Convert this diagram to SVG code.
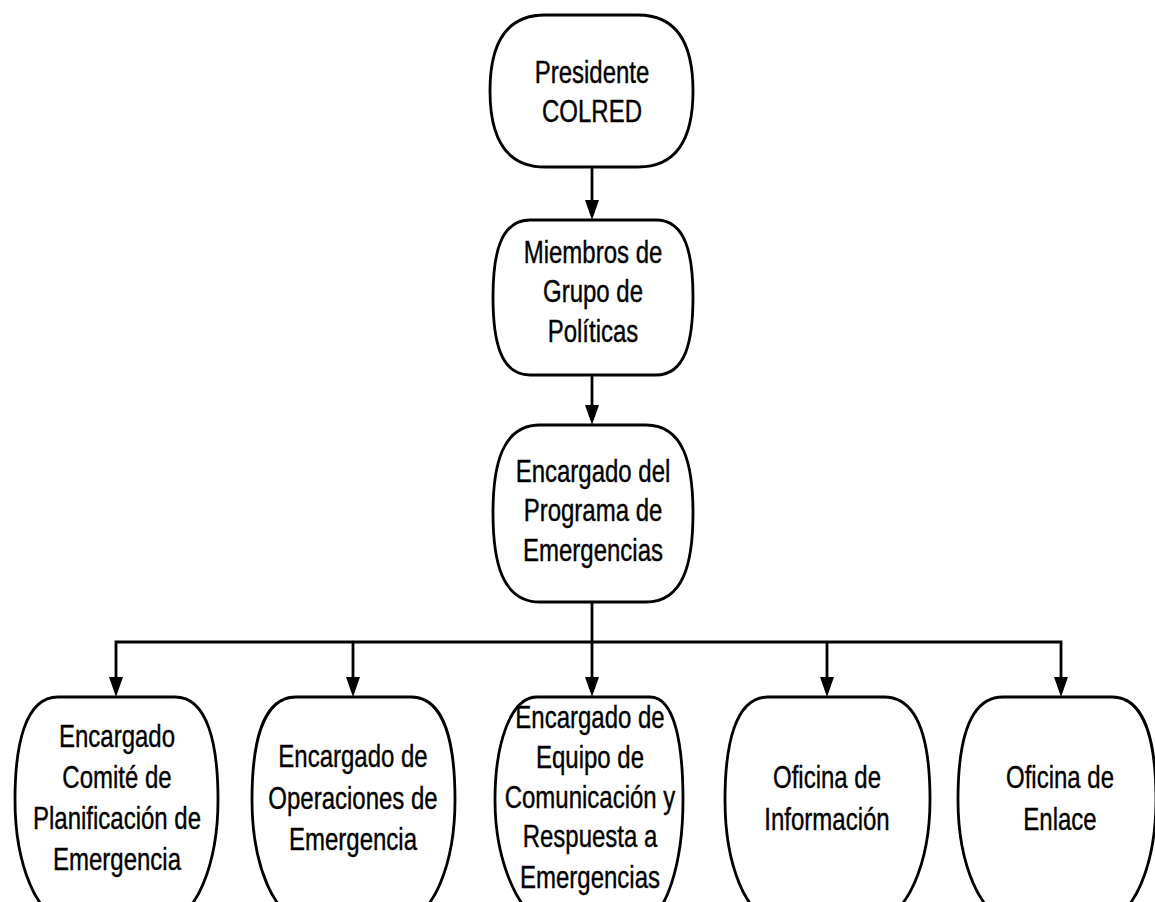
<svg xmlns="http://www.w3.org/2000/svg" width="1155" height="902" viewBox="0 0 1155 902">
<defs>
<style>
.node{fill:#fff;stroke:#000;stroke-width:2.8}
.lbl{font-family:"Liberation Sans",Arial,sans-serif;font-size:32px;fill:#000;text-anchor:middle;stroke:#000;stroke-width:0.4}
.con{fill:none;stroke:#000;stroke-width:2.8}
.ah{fill:#000}
</style>
</defs>
<rect width="1155" height="902" fill="#fff"/>
<g id="connectors">
<line class="con" x1="592" y1="167" x2="592" y2="202"/>
<path class="ah" d="M585,200 L599,200 L592,220 Z"/>
<line class="con" x1="592" y1="375" x2="592" y2="407"/>
<path class="ah" d="M585,405 L599,405 L592,425 Z"/>
<line class="con" x1="592" y1="602" x2="592" y2="679"/>
<path class="ah" d="M585,677 L599,677 L592,697 Z"/>
<polyline class="con" points="116,679 116,642 1061,642 1061,679"/>
<line class="con" x1="353" y1="642" x2="353" y2="679"/>
<line class="con" x1="827" y1="642" x2="827" y2="679"/>
<path class="ah" d="M109,677 L123,677 L116,697 Z"/>
<path class="ah" d="M346,677 L360,677 L353,697 Z"/>
<path class="ah" d="M820,677 L834,677 L827,697 Z"/>
<path class="ah" d="M1054,677 L1068,677 L1061,697 Z"/>
</g>
<g id="n1">
<path class="node" d="M545,15 H638 C676,15 693,42 693,91 C693,140 676,167 638,167 H545 C507,167 490,140 490,91 C490,42 507,15 545,15 Z"/>
<text class="lbl" transform="translate(592 0) scale(0.75 1)"><tspan x="0" y="83">Presidente</tspan><tspan x="0" y="122">COLRED</tspan></text>
</g>
<g id="n2">
<path class="node" d="M530,220 H656 C686,220 693,255 693,297 C693,340 686,375 656,375 H530 C500,375 493,340 493,297 C493,255 500,220 530,220 Z"/>
<text class="lbl" transform="translate(593 0) scale(0.75 1)"><tspan x="0" y="263">Miembros de</tspan><tspan x="0" y="302">Grupo de</tspan><tspan x="0" y="342">Políticas</tspan></text>
</g>
<g id="n3">
<path class="node" d="M540,425 H646 C684,425 693,465 693,513 C693,562 684,602 646,602 H540 C502,602 493,562 493,513 C493,465 502,425 540,425 Z"/>
<text class="lbl" transform="translate(593 0) scale(0.75 1)"><tspan x="0" y="482">Encargado del</tspan><tspan x="0" y="521">Programa de</tspan><tspan x="0" y="561">Emergencias</tspan></text>
</g>
<g id="b1">
<path class="node" d="M58,697 H175 C208,697 218,745 218,800 C218,865 195,918 170,918 H63 C38,918 15,865 15,800 C15,745 25,697 58,697 Z"/>
<text class="lbl" transform="translate(117 0) scale(0.75 1)"><tspan x="0" y="747">Encargado</tspan><tspan x="0" y="788">Comité de</tspan><tspan x="0" y="829">Planificación de</tspan><tspan x="0" y="870">Emergencia</tspan></text>
</g>
<g id="b2">
<path class="node" d="M296,697 H411 C445,697 455,745 455,800 C455,865 432,918 406,918 H301 C275,918 252,865 252,800 C252,745 262,697 296,697 Z"/>
<text class="lbl" transform="translate(353 0) scale(0.75 1)"><tspan x="0" y="767">Encargado de</tspan><tspan x="0" y="809">Operaciones de</tspan><tspan x="0" y="850">Emergencia</tspan></text>
</g>
<g id="b3">
<path class="node" d="M537,697 H650 C675,697 683,745 683,800 C683,865 665,918 645,918 H542 C522,918 495,865 495,800 C495,745 510,697 537,697 Z"/>
<text class="lbl" transform="translate(590 0) scale(0.75 1)"><tspan x="0" y="728">Encargado de</tspan><tspan x="0" y="768">Equipo de</tspan><tspan x="0" y="808">Comunicación y</tspan><tspan x="0" y="847">Respuesta a</tspan><tspan x="0" y="888">Emergencias</tspan></text>
</g>
<g id="b4">
<path class="node" d="M768,697 H884 C920,697 930,745 930,800 C930,865 905,918 879,918 H773 C747,918 725,865 725,800 C725,745 735,697 768,697 Z"/>
<text class="lbl" transform="translate(827 0) scale(0.75 1)"><tspan x="0" y="788">Oficina de</tspan><tspan x="0" y="830">Información</tspan></text>
</g>
<g id="b5">
<path class="node" d="M1003,697 H1112 C1146,697 1156,745 1156,800 C1156,865 1133,918 1107,918 H1008 C982,918 958,865 958,800 C958,745 968,697 1003,697 Z"/>
<text class="lbl" transform="translate(1060 0) scale(0.75 1)"><tspan x="0" y="788">Oficina de</tspan><tspan x="0" y="830">Enlace</tspan></text>
</g>
</svg>
